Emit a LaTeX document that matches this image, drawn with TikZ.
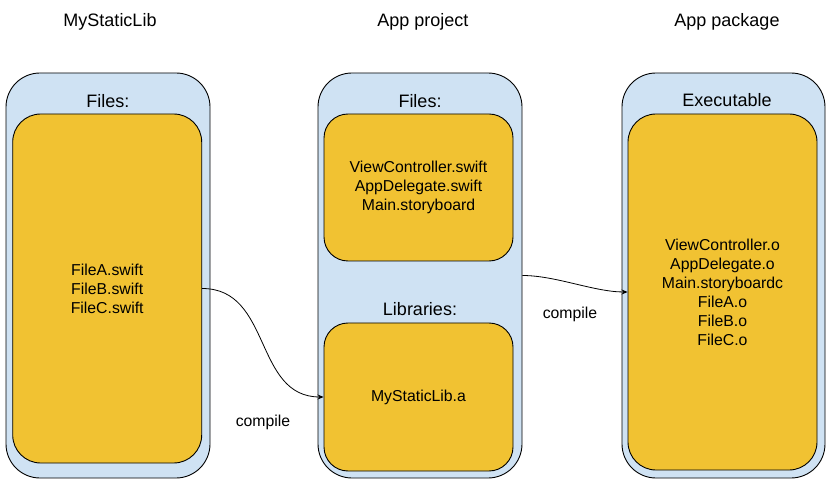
\documentclass[tikz,border=0pt]{standalone}
\usepackage{fontspec}
\setmainfont{Liberation Sans}
\usetikzlibrary{arrows.meta}
\definecolor{boxblue}{HTML}{CFE2F3}
\definecolor{boxyellow}{HTML}{F1C232}
\tikzset{
  outerbox/.style={draw=black, line width=0.9pt, fill=boxblue, rounded corners=34pt, minimum width=204pt, minimum height=405pt, inner sep=0pt},
  innerbox/.style={draw=black, line width=0.9pt, fill=boxyellow, rounded corners=28pt, minimum width=189pt, inner sep=0pt, align=center, font=\fontsize{15.8}{19}\selectfont},
  heading/.style={inner sep=0pt, font=\fontsize{18}{21}\selectfont},
  lbl/.style={inner sep=0pt, font=\fontsize{15.8}{19}\selectfont},
  conn/.style={draw=black, line width=0.8pt, -{Stealth[length=6pt,width=5pt]}}
}
\begin{document}
\begin{tikzpicture}[x=1pt,y=-1pt]
\useasboundingbox (0,0) rectangle (838,494);
% titles
\node[heading] (t1) at (110,22) {MyStaticLib};
\node[heading] (t2) at (423,22) {App project};
\node[heading] (t3) at (727,22) {App package};
% left column
\node[outerbox] (lo) at (108,275.5) {};
\node[heading] (lf) at (108,101) {Files:};
\node[innerbox, minimum height=349pt] (li) at (107.2,288.5) {FileA.swift\\FileB.swift\\FileC.swift};
% middle column
\node[outerbox] (mo) at (420,275.5) {};
\node[heading] (mf) at (420,101) {Files:};
\node[innerbox, minimum height=147pt, rounded corners=24pt] (mt) at (418.5,187.5) {ViewController.swift\\AppDelegate.swift\\Main.storyboard};
\node[heading] (ml) at (420,309) {Libraries:};
\node[innerbox, minimum height=148pt, rounded corners=24pt] (mb) at (418.5,397) {MyStaticLib.a};
% right column
\node[outerbox, minimum width=203pt] (ro) at (723.5,275.5) {};
\node[heading] (rf) at (727,100) {Executable};
\node[innerbox, minimum height=356pt] (ri) at (722.5,292) {ViewController.o\\AppDelegate.o\\Main.storyboardc\\FileA.o\\FileB.o\\FileC.o};
% connectors
\draw[conn] (li.east) to[out=0,in=180,looseness=1.1] (mb.west);
\draw[conn] (mo.east) to[out=0,in=180,looseness=0.8] (ri.west);
\node[lbl] (c1) at (263,422) {compile};
\node[lbl] (c2) at (570,314) {compile};
\end{tikzpicture}
\end{document}
